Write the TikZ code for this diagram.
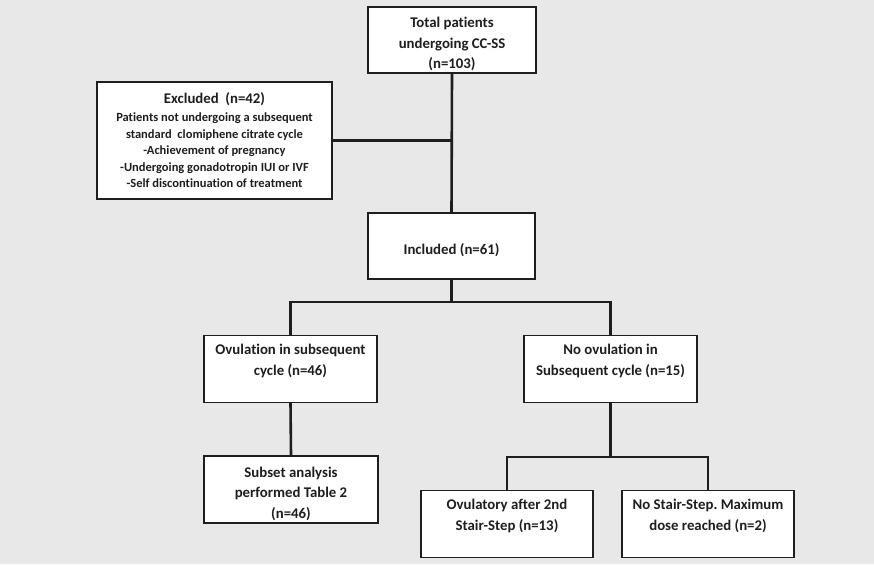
\documentclass[tikz,border=0pt]{standalone}
\usepackage{fontspec}
\setmainfont{Carlito}[Ligatures=NoCommon]
\definecolor{bg}{RGB}{232,232,232}
\definecolor{ink}{RGB}{30,30,30}
\newcommand\toppad{\rule{0pt}{19pt}}
\frenchspacing
\begin{document}
\begin{tikzpicture}[x=1pt,y=-1pt,
  box/.style={draw=ink, line width=1.1pt, fill=white, align=center, inner sep=0pt, text=ink,
    font=\bfseries\fontsize{14.8}{20.5}\selectfont},
  smallbox/.style={box, font=\bfseries\fontsize{12.5}{16.6}\selectfont},
  link/.style={draw=ink, line width=2.6pt}]
\fill[bg] (0,0) rectangle (874,564);
\useasboundingbox (0,0) rectangle (874,564);

\node[box, minimum width=168pt, minimum height=66pt] (total) at (452,40)
  {\toppad Total patients\\undergoing CC-SS\\(n=103)};
\node[smallbox, minimum width=235pt, minimum height=117pt] (excl) at (214.5,140.5)
  {{\fontsize{14.8}{17}\selectfont Excluded\ \ (n=42)}\\[1pt]
   Patients not undergoing a subsequent\\
   standard\ \ clomiphene citrate cycle\\
   -Achievement of pregnancy\\
   -Undergoing gonadotropin IUI or IVF\\
   -Self discontinuation of treatment};
\node[box, minimum width=167pt, minimum height=66pt] (incl) at (451.5,246)
  {\toppad Included (n=61)};
\node[box, minimum width=173pt, minimum height=66pt] (ovul) at (290.5,369)
  {\toppad Ovulation in subsequent\\cycle (n=46)\\\strut};
\node[box, minimum width=173pt, minimum height=66pt] (noov) at (610.5,369)
  {\toppad No ovulation in\\Subsequent cycle (n=15)\\\strut};
\node[box, minimum width=174pt, minimum height=67pt] (subset) at (291,489.5)
  {\toppad Subset analysis\\performed Table 2\\(n=46)};
\node[box, minimum width=172pt, minimum height=66pt] (ovst) at (507,524)
  {\toppad Ovulatory after 2nd\\Stair-Step (n=13)\\\strut};
\node[box, minimum width=172pt, minimum height=66pt] (nost) at (708,524)
  {\toppad No Stair-Step. Maximum\\dose reached (n=2)\\\strut};

\coordinate (s1) at (451.5,302);
\coordinate (s2) at (610.5,457);

\draw[link] (total.south) -- (incl.north);
\draw[link] (excl.east) -- (excl.east -| total.south);
\draw[link] (incl.south) -- (s1);
\draw[link] (ovul.north) |- (s1) -| (noov.north);
\draw[link] (ovul.south) -- (subset.north);
\draw[link] (noov.south) -- (s2);
\draw[link] (ovst.north) |- (s2) -| (nost.north);
\end{tikzpicture}
\end{document}
